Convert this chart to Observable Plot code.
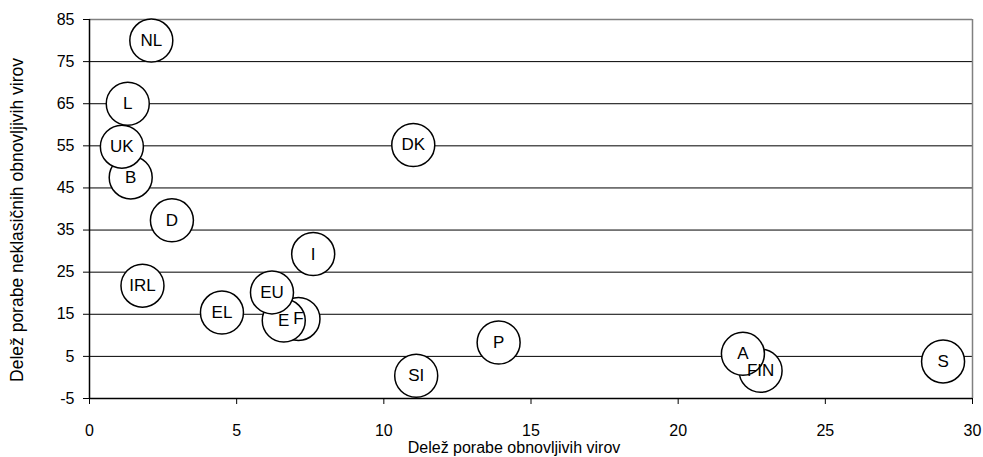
<!DOCTYPE html>
<html>
<head>
<meta charset="utf-8">
<script src="https://cdn.jsdelivr.net/npm/d3@7"></script>
<script src="https://cdn.jsdelivr.net/npm/@observablehq/plot@0.6"></script>
<style>
  html, body { margin: 0; padding: 0; background: #fff; }
  #chart svg { display: block; }
  #chart svg g[aria-label="x-axis tick label"],
  #chart svg g[aria-label="y-axis tick label"] { font-size: 16px !important; }
</style>
</head>
<body>
<div id="chart"></div>
<script>
// Drawing order matters (later circles lie on top)
const countries = ["NL", "D", "IRL", "EL", "I", "DK", "SI", "P", "S", "F", "E", "EU", "FIN", "A", "B", "L", "UK"];
const renewableShare = [2.1, 2.8, 1.8, 4.5, 7.6, 11.0, 11.1, 13.9, 29.0, 7.1, 6.6, 6.2, 22.8, 22.2, 1.4, 1.3, 1.1];
const nonClassicShare = [80, 37.3, 21.8, 15.4, 29.3, 55.2, 0.4, 8.3, 3.8, 13.9, 13.5, 20.2, 1.6, 5.6, 47.5, 65, 54.8];
const xTicks = [0, 5, 10, 15, 20, 25, 30];
const yTicks = [-5, 5, 15, 25, 35, 45, 55, 65, 75, 85];
const xTitle = "Delež porabe obnovljivih virov";
const yTitle = "Delež porabe neklasičnih obnovljivih virov";

const data = countries.map((c, i) => ({c, x: renewableShare[i], y: nonClassicShare[i]}));

const chart = Plot.plot({
  width: 983,
  height: 457,
  marginLeft: 89,
  marginRight: 11,
  marginTop: 19,
  marginBottom: 59,
  style: {fontFamily: "'Liberation Sans', Arial, sans-serif", fontSize: "16px", color: "#000", background: "#fff"},
  x: {domain: [0, 30]},
  y: {domain: [-5, 85]},
  marks: [
    Plot.ruleY(yTicks.slice(1, -1), {stroke: "#000", strokeWidth: 1}),
    Plot.ruleY([85], {stroke: "#808080", strokeWidth: 1.5}),
    Plot.ruleX([30], {stroke: "#808080", strokeWidth: 1.5}),
    Plot.axisX({ticks: xTicks, tickSize: 6, tickPadding: 20, tickFormat: d => String(d), fontSize: 16, stroke: "#000", strokeOpacity: 1, label: null}),
    Plot.axisY({ticks: yTicks, tickSize: 6, tickPadding: 9, tickFormat: d => String(d), fontSize: 16, stroke: "#000", strokeOpacity: 1, label: null}),
    Plot.text([xTitle], {frameAnchor: "bottom", text: d => d, textAnchor: "middle", lineAnchor: "middle", dy: 49, dx: -17, fontSize: 16, fill: "#000"}),
    Plot.text([yTitle], {frameAnchor: "left", text: d => d, rotate: -90, textAnchor: "middle", lineAnchor: "middle", dx: -72, dy: 11, fontSize: 17.5, fill: "#000"}),
    Plot.ruleY([-5], {stroke: "#000", strokeWidth: 1.5}),
    Plot.ruleX([0], {stroke: "#000", strokeWidth: 1.5}),
    Plot.dot(data, {x: "x", y: "y", r: 21.5, fill: "#fff", stroke: "#000", strokeWidth: 1.5}),
    Plot.text(data, {x: "x", y: "y", text: "c", fontSize: 17, fill: "#000"})
  ]
});
document.getElementById("chart").appendChild(chart);
</script>
</body>
</html>
